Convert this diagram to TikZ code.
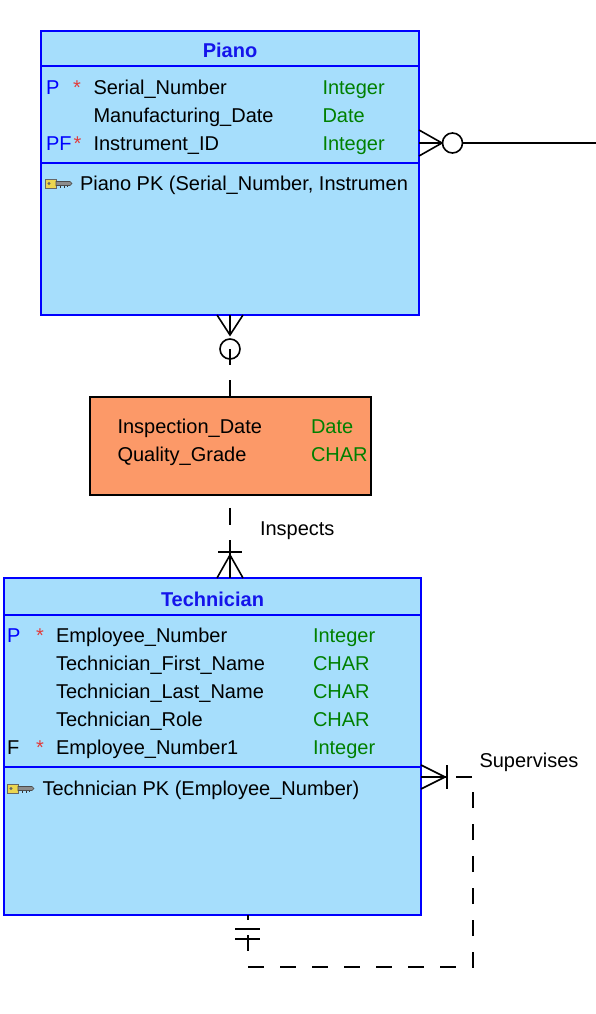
\documentclass[tikz,border=0pt]{standalone}
\usepackage{fontspec}
\setmainfont{Liberation Sans}
\usetikzlibrary{calc}
\definecolor{entFill}{RGB}{166,222,252}
\definecolor{entLine}{RGB}{0,0,255}
\definecolor{hdrBlue}{RGB}{20,20,235}
\definecolor{typeGreen}{RGB}{0,128,0}
\definecolor{flagBlue}{RGB}{0,0,255}
\definecolor{starRed}{RGB}{225,60,60}
\definecolor{assocFill}{RGB}{252,153,104}
\definecolor{keyYellow}{RGB}{236,214,80}
\tikzset{
  keyicon/.pic={
    \filldraw[fill=keyYellow, draw=black!60, line width=0.6pt] (0,2) rectangle (11,11);
    \filldraw[fill=black!45, draw=black!70, line width=0.6pt] (11,4.5) -- (25,4.5) -- (27,6.5) -- (25,8.5) -- (11,8.5) -- cycle;
    \draw[black!80, line width=0.8pt] (15,8.5) -- (15,10.5) (19,8.5) -- (19,10.5) (22,8.5) -- (22,10);
    \fill[black!60] (4,6.5) circle[radius=1.6pt];
  }
}
\begin{document}
\begin{tikzpicture}[x=1pt,y=-1pt,
  entity/.style={draw=entLine, line width=2pt, fill=entFill, inner sep=0pt, outer sep=0pt, rectangle},
  assoc/.style={draw=black, line width=2pt, fill=assocFill, inner sep=0pt, outer sep=0pt, rectangle},
  sepline/.style={draw=entLine, line width=2pt},
  txt/.style={anchor=base west, inner sep=0pt, outer sep=0pt, font=\fontsize{20}{24}\selectfont, text=black},
  typ/.style={txt, text=typeGreen},
  flag/.style={txt, text=flagBlue},
  ast/.style={txt, text=starRed},
  hdr/.style={anchor=base, inner sep=0pt, outer sep=0pt, font=\fontsize{20}{24}\selectfont\bfseries, text=hdrBlue},
  conn/.style={line width=1.6pt, draw=black},
  lbl/.style={txt, text=black}]
\useasboundingbox[fill=white] (0,0) rectangle (596,1014);

% ---------------- Piano ----------------
\node[entity, minimum width=378pt, minimum height=284pt] (piano) at (230,173) {};
\draw[sepline] ($(piano.north west)+(0,35.5)$) -- ($(piano.north east)+(0,35.5)$);
\draw[sepline] ($(piano.north west)+(0,131.5)$) -- ($(piano.north east)+(0,131.5)$);
\node[hdr] (pianoH) at (230,58) {Piano};
\node[flag] (pf1) at (46,94.5) {P};
\node[ast]  (ps1) at (73,94.5) {*};
\node[txt]  (pn1) at (93.5,94.5) {Serial\_Number};
\node[typ]  (pt1) at (322.5,94.5) {Integer};
\node[txt]  (pn2) at (93.5,122.3) {Manufacturing\_Date};
\node[typ]  (pt2) at (322.5,122.3) {Date};
\node[flag] (pf3) at (46,150) {PF};
\node[ast]  (ps3) at (73.5,150) {*};
\node[txt]  (pn3) at (93.5,150) {Instrument\_ID};
\node[typ]  (pt3) at (322.5,150) {Integer};
\pic at (45,177) {keyicon};
\node[txt]  (pk) at (80,190) {Piano PK (Serial\_Number, Instrumen};

% ---------------- Inspection (associative) ----------------
\node[assoc, minimum width=281pt, minimum height=97.5pt] (insp) at (230,446) {};
\node[txt] (in1) at (117.5,433.3) {Inspection\_Date};
\node[typ] (it1) at (311,433.3) {Date};
\node[txt] (in2) at (117.5,461.5) {Quality\_Grade};
\node[typ] (it2) at (311,461.5) {CHAR};

% ---------------- Technician ----------------
\node[entity, minimum width=417pt, minimum height=337pt] (tech) at (212.5,746.5) {};
\draw[sepline] ($(tech.north west)+(0,37)$) -- ($(tech.north east)+(0,37)$);
\draw[sepline] ($(tech.north west)+(0,189)$) -- ($(tech.north east)+(0,189)$);
\node[hdr] (techH) at (212.5,606.5) {Technician};
\node[flag] (tf1) at (7,642.5) {P};
\node[ast]  (ts1) at (36,642.5) {*};
\node[txt]  (tn1) at (56,642.5) {Employee\_Number};
\node[typ]  (tt1) at (313,642.5) {Integer};
\node[txt]  (tn2) at (56,670.5) {Technician\_First\_Name};
\node[typ]  (tt2) at (313,670.5) {CHAR};
\node[txt]  (tn3) at (56,698.5) {Technician\_Last\_Name};
\node[typ]  (tt3) at (313,698.5) {CHAR};
\node[txt]  (tn4) at (56,726.5) {Technician\_Role};
\node[typ]  (tt4) at (313,726.5) {CHAR};
\node[txt]  (tf5) at (7,754.7) {F};
\node[ast]  (ts5) at (36,754.7) {*};
\node[txt]  (tn5) at (56,754.7) {Employee\_Number1};
\node[typ]  (tt5) at (313,754.7) {Integer};
\pic at (7,782) {keyicon};
\node[txt]  (tk) at (42.5,795) {Technician PK (Employee\_Number)};

% ---------------- Piano -> Inspection ----------------
\coordinate (c1) at ($(piano.south)+(0,20)$);
\draw[conn] (piano.south) -- (c1);
\draw[conn] ($(piano.south)+(-13,0)$) -- (c1) -- ($(piano.south)+(13,0)$);
\draw[conn] ($(piano.south)+(0,34)$) circle[radius=10pt];
\draw[conn] ($(piano.south)+(0,34)$) -- ($(piano.south)+(0,50)$);
\draw[conn] ($(piano.south)+(0,65)$) -- (piano.south |- insp.north);

% ---------------- Inspection -> Technician ----------------
\coordinate (t1) at (insp.south |- tech.north);
\coordinate (c2) at ($(t1)+(0,-23)$);
\draw[conn] ($(insp.south)+(0,13)$) -- ($(insp.south)+(0,30)$);
\draw[conn] ($(t1)+(0,-38)$) -- (t1);
\draw[conn] ($(t1)+(-12,-26)$) -- ($(t1)+(12,-26)$);
\draw[conn] ($(t1)+(-13,0)$) -- (c2) -- ($(t1)+(13,0)$);
\node[lbl] (inspects) at (260,535.5) {Inspects};

% ---------------- Piano -> right (off page) ----------------
\coordinate (pOut) at (596,143);
\coordinate (pR) at (piano.east |- pOut);
\coordinate (pC) at ($(pR)+(23,0)$);
\draw[conn] (pR) -- (pC);
\draw[conn] ($(pR)+(0,-13)$) -- (pC) -- ($(pR)+(0,13)$);
\draw[conn] ($(pR)+(33.5,0)$) circle[radius=10pt];
\draw[conn] ($(pR)+(43.5,0)$) -- (pOut);

% ---------------- Technician self relationship ----------------
\coordinate (sR) at ($(tech.north east)+(0,199)$);
\coordinate (sC) at ($(sR)+(24,0)$);
\draw[conn] (sR) -- ($(sR)+(26,0)$);
\draw[conn] ($(sR)+(0,-12)$) -- (sC) -- ($(sR)+(0,12)$);
\draw[conn] ($(sR)+(26,-12)$) -- ($(sR)+(26,12)$);
\coordinate (tB) at ($(tech.south west)+(244,0)$);
\coordinate (sB) at ($(tB)+(0,52)$);
\coordinate (sK) at ($(sR)+(52,0)$);
\draw[conn, dash pattern=on 16pt off 16pt] (sB) -- (sB -| sK) -- (sK) -- ($(sR)+(34,0)$);
\draw[conn] (tB) -- ($(tB)+(0,5)$);
\draw[conn] ($(tB)+(-13,14)$) -- ($(tB)+(12,14)$);
\draw[conn] ($(tB)+(-13,24)$) -- ($(tB)+(12,24)$);
\draw[conn] ($(tB)+(0,20)$) -- ($(tB)+(0,36)$);
\node[lbl] (supervises) at (479.5,767.5) {Supervises};
\end{tikzpicture}
\end{document}
